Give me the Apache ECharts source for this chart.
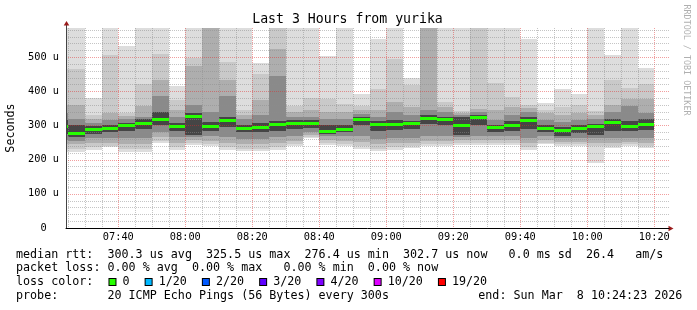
<!DOCTYPE html>
<html><head><meta charset="utf-8">
<script src="https://cdn.jsdelivr.net/npm/echarts@6/dist/echarts.min.js"></script>
<style>html,body{margin:0;padding:0;background:#fff}#c{width:697px;height:310px}</style>
</head><body><div id="c"></div>
<script>
// ---- data (values in microseconds) ----
const barEnds = ['07:25','07:30','07:35','07:40','07:45','07:50','07:55','08:00','08:05','08:10','08:15','08:20',
  '08:25','08:30','08:35','08:40','08:45','08:50','08:55','09:00','09:05','09:10','09:15','09:20',
  '09:25','09:30','09:35','09:40','09:45','09:50','09:55','10:00','10:05','10:10','10:15','10:20'];
const rttMin    = [222,221,229,236,222,222,248,229,244,239,229,224,224,229,239,262,244,239,231,224,227,234,239,239,244,244,244,244,227,246,239,239,190,234,239,234];
const smokeLo2  = [232,232,238,240,232,232,255,238,248,245,238,232,232,238,245,266,250,245,240,232,236,240,245,245,250,250,250,250,236,250,245,245,240,240,245,240];
const smokeLo3  = [245,245,250,250,245,245,265,250,256,255,250,245,245,250,255,272,258,255,252,245,248,250,255,255,258,258,258,258,248,258,252,252,250,250,252,250];
const smokeLo4  = [258,255,262,262,262,262,280,265,266,270,265,260,260,265,268,280,268,268,268,260,262,262,270,270,266,270,268,268,262,268,262,262,262,262,262,262];
const smokeLo5  = [275,265,275,282,285,290,300,283,273,285,295,280,282,285,290,292,275,280,300,285,288,290,305,300,273,300,280,285,290,280,270,278,272,285,285,288];
const medianRtt = [297,276.4,288,292,300,306,318,297,325.5,297,313,292,295,302,305,307,282,289,318,303,302,305,320,317,299,322,293,300,315,290,286,291,297,309,298,302.7];
const smokeHi5  = [315,300,298,302,308,318,338,308,335,310,325,300,308,312,315,315,300,300,325,312,315,312,330,325,325,330,300,312,325,300,295,300,305,320,312,318];
const smokeHi4  = [335,320,308,315,318,324,385,325,361,339,385,320,330,445,325,325,320,320,332,325,339,330,345,340,330,340,315,330,340,315,310,315,320,340,358,335];
const smokeHi3  = [360,360,318,336,328,358,434,344,475,600,434,330,373,524,340,345,340,340,345,344,368,355,600,355,335,349,345,355,350,335,330,335,330,360,378,378];
const smokeHi2  = [466,466,330,505,336,422,510,373,497,600,487,344,451,600,358,381,378,363,358,407,493,417,600,368,342,600,424,383,361,345,355,360,342,432,410,422];
const rttMax    = [600,600,381,600,533,600,600,414,600,600,600,600,483,600,600,600,502,600,392,553,600,439,600,600,600,600,600,600,553,366,407,391,600,507,600,468];
const xTickLabels = ['07:40','08:00','08:20','08:40','09:00','09:20','09:40','10:00','10:20'];
const yTickValues = [0,100,200,300,400,500];
const lossLabels = ['0','1/20','2/20','3/20','4/20','10/20','19/20'];
const lossColors = ['#26ff00','#00b8ff','#0059ff','#5e00ff','#7e00ff','#dd00ff','#ff0000'];
const titleText = 'Last 3 Hours from yurika';
const statLines = [
  'median rtt:  300.3 us avg  325.5 us max  276.4 us min  302.7 us now   0.0 ms sd  26.4   am/s',
  'packet loss: 0.00 % avg  0.00 % max   0.00 % min  0.00 % now',
  'probe:       20 ICMP Echo Pings (56 Bytes) every 300s'
];
const endText = 'end: Sun Mar  8 10:24:23 2026';

// ---- helpers ----
const toMin = s => (+s.slice(0,2))*60 + (+s.slice(3,5));
const xMin = toMin('07:24') + 23/60;
const xMax = xMin + 180;
const yMax = 585;
const fmtTime = v => { const h = Math.floor(v/60), m = Math.round(v%60); return String(h).padStart(2,'0')+':'+String(m).padStart(2,'0'); };
const MONO = 'DejaVu Sans Mono';
const bandColors = ['#dddddd','#c9c9c9','#aeaeae','#8a8a8a','#454545'];

const smokeData = barEnds.map((t,i) => [toMin(t), rttMin[i], smokeLo2[i], smokeLo3[i], smokeLo4[i], smokeLo5[i],
  smokeHi5[i], smokeHi4[i], smokeHi3[i], smokeHi2[i], rttMax[i]]);
const medianData = barEnds.map((t,i) => [toMin(t), medianRtt[i]]);

// grid line positions (layout, not data)
const gridV = [];
for (let m = 445; m <= 620; m += 5) gridV.push([m, m % 20 === 0 ? 1 : 0]);
const gridH = [];
for (let v = 20; v <= 580; v += 20) gridH.push([v, v % 100 === 0 ? 1 : 0]);

const minorColor = 'rgba(140,140,140,0.5)';
const majorColor = 'rgba(225,40,40,0.45)';

const chart = echarts.init(document.getElementById('c'), null, {renderer:'canvas'});
const option = {
  animation: false,
  backgroundColor: '#ffffff',
  grid: {left: 66, top: 28, width: 603, height: 200, outerBoundsMode: 'none', containLabel: false},
  xAxis: {
    type: 'value', min: xMin, max: xMax, z: 10,
    axisLine: {show: true, lineStyle: {color: '#000', width: 1}},
    axisTick: {show: false},
    splitLine: {show: false},
    axisLabel: {
      customValues: xTickLabels.map(toMin),
      formatter: v => fmtTime(v),
      fontFamily: MONO, fontSize: 10.3, color: '#000', margin: 4
    }
  },
  yAxis: {
    type: 'value', min: 0, max: yMax, z: 10,
    name: 'Seconds', nameLocation: 'middle', nameGap: 47,
    nameTextStyle: {fontFamily: MONO, fontSize: 11.7, color: '#000'},
    axisLine: {show: true, lineStyle: {color: '#444', width: 1}},
    axisTick: {show: false},
    splitLine: {show: false},
    axisLabel: {
      customValues: yTickValues,
      formatter: v => v === 0 ? '0  ' : v + ' u',
      fontFamily: MONO, fontSize: 10.3, color: '#000', margin: 7
    }
  },
  series: [
    {
      type: 'custom', name: 'smoke', z: 2, data: smokeData,
      encode: {x: 0, y: 1},
      renderItem: (params, api) => {
        const tEnd = api.value(0);
        const t0 = Math.max(tEnd - 5, xMin);
        const kids = [];
        for (let b = 0; b < 5; b++) {
          const lo = api.value(1 + b), hi = Math.min(api.value(10 - b), yMax);
          const p1 = api.coord([t0, hi]);
          const p2 = api.coord([tEnd, lo]);
          const x1 = Math.round(p1[0]), x2 = Math.round(p2[0]);
          const y1 = Math.round(p1[1]), y2 = Math.round(p2[1]);
          kids.push({type: 'rect', shape: {x: x1, y: y1, width: x2 - x1, height: y2 - y1},
            style: {fill: bandColors[b]}});
        }
        return {type: 'group', children: kids};
      }
    },
    {
      type: 'custom', name: 'gridV', z: 3, data: gridV, silent: true,
      encode: {x: 0},
      renderItem: (params, api) => {
        const cs = params.coordSys;
        const x = Math.round(api.coord([api.value(0), 0])[0]) + 0.5;
        return {type: 'line', shape: {x1: x, y1: cs.y, x2: x, y2: cs.y + cs.height},
          style: {stroke: api.value(1) ? majorColor : minorColor, lineWidth: 1, lineDash: [1, 1]}};
      }
    },
    {
      type: 'custom', name: 'gridH', z: 3, data: gridH, silent: true,
      encode: {y: 0},
      renderItem: (params, api) => {
        const cs = params.coordSys;
        const y = Math.round(api.coord([xMin, api.value(0)])[1]) + 0.5;
        return {type: 'line', shape: {x1: cs.x, y1: y, x2: cs.x + cs.width, y2: y},
          style: {stroke: api.value(1) ? majorColor : minorColor, lineWidth: 1, lineDash: [1, 1]}};
      }
    },
    {
      type: 'custom', name: 'median', z: 4, data: medianData,
      encode: {x: 0, y: 1},
      renderItem: (params, api) => {
        const tEnd = api.value(0);
        const t0 = Math.max(tEnd - 5, xMin);
        const p1 = api.coord([t0, api.value(1)]);
        const p2 = api.coord([tEnd, api.value(1)]);
        const x1 = Math.round(p1[0]), x2 = Math.round(p2[0]);
        const y = Math.round(p1[1] - 1.5);
        return {type: 'rect', shape: {x: x1, y: y, width: x2 - x1, height: 3},
          style: {fill: lossColors[0]}};
      }
    }
  ]
};
chart.setOption(option);

// ---- texts and decorations ----
const rich = {s: {width: 2}};
let lossText = 'loss color:  ';
lossLabels.forEach((l, i) => {
  rich['b' + i] = {width: 6, height: 6, backgroundColor: lossColors[i], borderColor: '#000', borderWidth: 1};
  lossText += '{s|}{b' + i + '|} ' + l + '  ';
});
const origin = chart.convertToPixel({gridIndex: 0}, [xMin, 0]);
const topLeft = chart.convertToPixel({gridIndex: 0}, [xMin, yMax]);
const right = chart.convertToPixel({gridIndex: 0}, [xMax, 0]);
const ax = Math.round(origin[0]) + 0.5, ay = Math.round(origin[1]) + 0.5;
const graphics = [
  {type: 'text', x: 347.5, y: 19.5, style: {text: titleText, font: '13.2px "' + MONO + '"', fill: '#000', align: 'center', verticalAlign: 'middle'}},
  {type: 'text', x: 686, y: 60, rotation: -Math.PI / 2, style: {text: 'RRDTOOL / TOBI OETIKER', font: '8.4px "' + MONO + '"', fill: '#b0b0b0', align: 'center', verticalAlign: 'middle'}},
  {type: 'text', x: 16, y: 254.5, style: {text: statLines[0], font: '11.7px "' + MONO + '"', fill: '#000', verticalAlign: 'middle'}},
  {type: 'text', x: 16, y: 268, style: {text: statLines[1], font: '11.7px "' + MONO + '"', fill: '#000', verticalAlign: 'middle'}},
  {type: 'text', x: 16, y: 282, style: {text: lossText, rich: rich, fontFamily: MONO, fontSize: 11.7, fill: '#000', verticalAlign: 'middle'}},
  {type: 'text', x: 16, y: 295.5, style: {text: statLines[2], font: '11.7px "' + MONO + '"', fill: '#000', verticalAlign: 'middle'}},
  {type: 'text', x: 478.3, y: 295.5, style: {text: endText, font: '11.7px "' + MONO + '"', fill: '#000', verticalAlign: 'middle'}},
  {type: 'line', shape: {x1: ax, y1: topLeft[1], x2: ax, y2: topLeft[1] - 3}, style: {stroke: '#444', lineWidth: 1}},
  {type: 'polygon', shape: {points: [[ax - 2.8, topLeft[1] - 2.5], [ax + 2.8, topLeft[1] - 2.5], [ax, topLeft[1] - 7]]}, style: {fill: '#9b1c1c'}},
  {type: 'polygon', shape: {points: [[right[0] - 0.5, ay - 2.8], [right[0] - 0.5, ay + 2.8], [right[0] + 4.5, ay]]}, style: {fill: '#9b1c1c'}}
];
chart.setOption({graphic: graphics});
</script>
</body></html>
